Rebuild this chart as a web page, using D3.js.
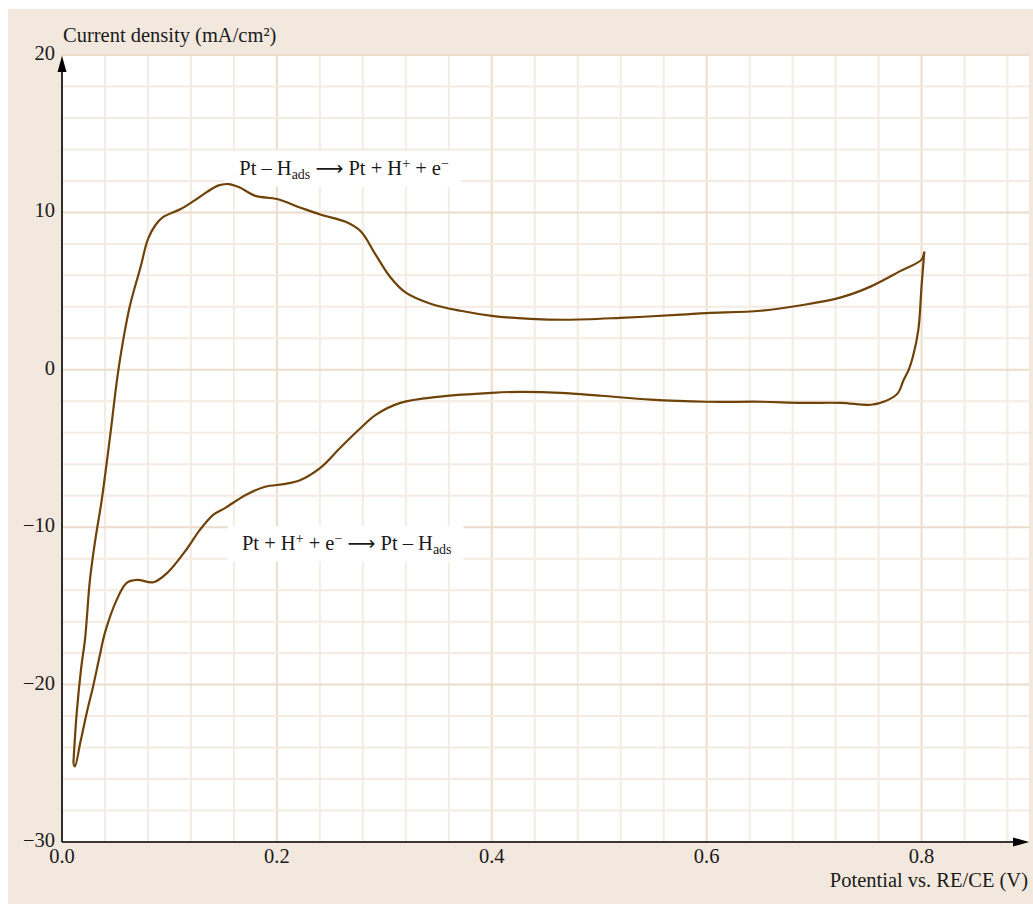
<!DOCTYPE html>
<html>
<head>
<meta charset="utf-8">
<script src="https://cdn.jsdelivr.net/npm/d3@7"></script>
<style>
  html, body { margin: 0; padding: 0; background: #ffffff; }
  svg { display: block; }
  text { font-family: "Liberation Serif", "Times New Roman", serif; fill: #1a1a1a; }
</style>
</head>
<body>
<svg id="chart" width="1033" height="904"></svg>
<script>
// ---------- data ----------
const xTicks = [0.0, 0.2, 0.4, 0.6, 0.8];
const xTickLabels = ["0.0", "0.2", "0.4", "0.6", "0.8"];
const yTicks = [20, 10, 0, -10, -20, -30];
const yTickLabels = ["20", "10", "0", "\u221210", "\u221220", "\u221230"];
const yTitle = "Current density (mA/cm\u00B2)";
const xTitle = "Potential vs. RE/CE (V)";

// anodic sweep (oxidation, upper branch)
const anodicV = [0.0106, 0.0137, 0.018, 0.0214, 0.026, 0.031, 0.037, 0.045, 0.0525, 0.063, 0.073, 0.080, 0.087, 0.094, 0.110, 0.122, 0.135, 0.145, 0.155, 0.165, 0.180, 0.200, 0.222, 0.241, 0.264, 0.278, 0.292, 0.306, 0.320, 0.343, 0.371, 0.400, 0.436, 0.469, 0.520, 0.576, 0.600, 0.650, 0.688, 0.725, 0.753, 0.781, 0.800, 0.8025];
const anodicJ = [-25.0, -21.8, -18.85, -17.15, -13.35, -10.8, -8.26, -4.1, 0.0, 4.0, 6.5, 8.3, 9.2, 9.7, 10.2, 10.7, 11.3, 11.7, 11.8, 11.6, 11.05, 10.85, 10.3, 9.85, 9.4, 8.8, 7.3, 5.85, 4.9, 4.2, 3.75, 3.43, 3.24, 3.18, 3.3, 3.5, 3.6, 3.75, 4.1, 4.6, 5.3, 6.3, 7.0, 7.5];

// cathodic sweep (reduction, lower branch)
const cathodicV = [0.8025, 0.800, 0.797, 0.792, 0.788, 0.783, 0.778, 0.766, 0.753, 0.725, 0.688, 0.651, 0.600, 0.548, 0.502, 0.464, 0.427, 0.400, 0.352, 0.315, 0.292, 0.278, 0.259, 0.241, 0.222, 0.208, 0.189, 0.171, 0.152, 0.141, 0.128, 0.116, 0.098, 0.085, 0.070, 0.060, 0.051, 0.040, 0.035, 0.029, 0.023, 0.017, 0.012, 0.0106];
const cathodicJ = [7.5, 5.3, 2.54, 0.85, 0.0, -0.7, -1.48, -2.0, -2.22, -2.1, -2.1, -2.03, -2.03, -1.9, -1.65, -1.46, -1.4, -1.46, -1.7, -2.1, -2.86, -3.7, -4.95, -6.2, -7.0, -7.25, -7.43, -7.95, -8.77, -9.2, -10.2, -11.4, -12.9, -13.5, -13.35, -13.55, -14.6, -16.7, -18.2, -20.1, -21.8, -23.7, -25.2, -25.0];

// annotations (centre position in data units; text parts)
const annotations = [
  { v: 0.2625, j: 12.39, parts: [["Pt \u2013 H", ""], ["ads", "sub"], [" ", ""], ["\u27F6", "arrow"], [" Pt + H", ""], ["+", "sup"], [" + e", ""], ["\u2212", "sup"]] },
  { v: 0.265, j: -11.43, parts: [["Pt + H", ""], ["+", "sup"], [" + e", ""], ["\u2212", "sup"], [" ", ""], ["\u27F6", "arrow"], [" Pt \u2013 H", ""], ["ads", "sub"]] }
];

// ---------- layout ----------
const svg = d3.select("#chart");
const W = 1033, H = 904;
const plotL = 62, plotR = 1029, plotT = 55, plotB = 842;

const x = d3.scaleLinear().domain([0, 0.9]).range([plotL, plotR]);
const y = d3.scaleLinear().domain([-30, 20]).range([plotB, plotT]);

// background panel
svg.append("rect").attr("x", 8).attr("y", 9).attr("width", W - 8).attr("height", H - 9).attr("fill", "#f2e8de");
svg.append("rect").attr("x", plotL).attr("y", plotT).attr("width", plotR - plotL).attr("height", plotB - plotT).attr("fill", "#ffffff");

// grid
const minorX = d3.range(0, 0.9001, 0.04).map(d => +d.toFixed(2));
const minorY = d3.range(-30, 20.001, 2);
const grid = svg.append("g");
grid.selectAll(".gx").data(minorX).join("line")
  .attr("x1", d => x(d)).attr("x2", d => x(d)).attr("y1", plotT).attr("y2", plotB)
  .attr("stroke", d => (Math.abs(d / 0.2 - Math.round(d / 0.2)) < 1e-6) ? "#ecdccb" : "#f4ebe2")
  .attr("stroke-width", 2);
grid.selectAll(".gy").data(minorY).join("line")
  .attr("x1", plotL).attr("x2", plotR).attr("y1", d => y(d)).attr("y2", d => y(d))
  .attr("stroke", d => (d % 10 === 0) ? "#ecdccb" : "#f4ebe2")
  .attr("stroke-width", 2);

// annotation boxes (drawn over grid, under the curve)
const fs = 20.5;
annotations.forEach(a => {
  const g = svg.append("g");
  const t = g.append("text").attr("x", x(a.v)).attr("y", y(a.j)).attr("text-anchor", "middle").attr("font-size", fs);
  a.parts.forEach(p => {
    const ts = t.append("tspan").text(p[0]);
    if (p[1] === "sub") ts.attr("font-size", fs * 0.68).attr("baseline-shift", "-28%");
    if (p[1] === "sup") ts.attr("font-size", fs * 0.68).attr("baseline-shift", "48%");
    if (p[1] === "arrow") ts.attr("font-family", "DejaVu Sans").attr("font-size", fs * 0.95);
  });
  const bb = t.node().getBBox();
  g.insert("rect", "text").attr("x", bb.x - 14).attr("y", bb.y - 5).attr("width", bb.width + 26).attr("height", bb.height + 10).attr("fill", "#ffffff");
});

// curve
const line = d3.line().x(d => x(d[0])).y(d => y(d[1])).curve(d3.curveCatmullRom.alpha(0.5));
const anodic = anodicV.map((v, i) => [v, anodicJ[i]]);
const cathodic = cathodicV.map((v, i) => [v, cathodicJ[i]]);
svg.append("path").attr("d", line(anodic)).attr("fill", "none").attr("stroke", "#6e4208").attr("stroke-width", 2.2).attr("stroke-linejoin", "round");
svg.append("path").attr("d", line(cathodic)).attr("fill", "none").attr("stroke", "#6e4208").attr("stroke-width", 2.2).attr("stroke-linejoin", "round");

// axes
svg.append("line").attr("x1", plotL).attr("x2", plotL).attr("y1", plotB).attr("y2", plotT + 14).attr("stroke", "#000").attr("stroke-width", 1.6);
svg.append("line").attr("x1", plotL).attr("x2", plotR - 14).attr("y1", plotB).attr("y2", plotB).attr("stroke", "#000").attr("stroke-width", 1.6);
svg.append("path").attr("d", `M${plotL},${plotT + 1} L${plotL - 4.5},${plotT + 17} L${plotL + 4.5},${plotT + 17} Z`).attr("fill", "#000");
svg.append("path").attr("d", `M${plotR},${plotB} L${plotR - 16},${plotB - 4.5} L${plotR - 16},${plotB + 4.5} Z`).attr("fill", "#000");

// tick labels
svg.append("g").selectAll("text").data(xTicks).join("text")
  .attr("x", d => x(d)).attr("y", plotB + 21).attr("text-anchor", "middle").attr("font-size", fs)
  .text((d, i) => xTickLabels[i]);
svg.append("g").selectAll("text").data(yTicks).join("text")
  .attr("x", plotL - 7).attr("y", d => y(d) + 5).attr("text-anchor", "end").attr("font-size", fs)
  .text((d, i) => yTickLabels[i]);

// axis titles
svg.append("text").attr("x", 63).attr("y", 42).attr("font-size", fs).text(yTitle);
svg.append("text").attr("x", 1028).attr("y", 887).attr("text-anchor", "end").attr("font-size", fs).text(xTitle);
</script>
</body>
</html>
